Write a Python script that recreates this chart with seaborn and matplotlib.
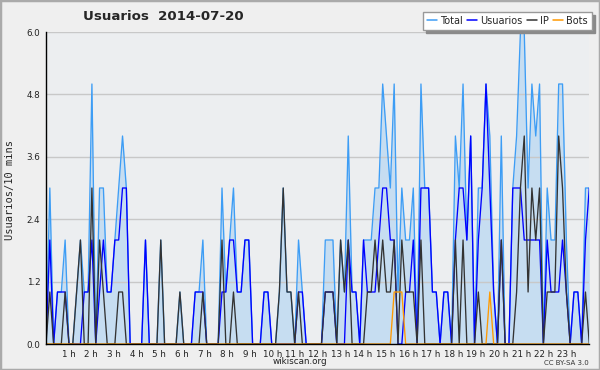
import numpy as np
import pandas as pd
import matplotlib
matplotlib.use("Agg")
import matplotlib.pyplot as plt
import seaborn as sns
from matplotlib.lines import Line2D
from matplotlib.patches import Rectangle

titulo = "Usuarios  2014-07-20"
series = ["Total", "Usuarios", "IP", "Bots"]
horas = [f"{h} h" for h in range(1, 24)]
yticks_lbl = ["0.0", "1.2", "2.4", "3.6", "4.8", "6.0"]

total = [0, 3, 0, 1, 1, 2, 0, 0, 1, 2, 1, 1, 5, 0, 3, 3, 1, 1, 2, 3, 4, 3, 0,
         0, 0, 0, 2, 0, 0, 0, 2, 0, 0, 0, 0, 1, 0, 0, 0, 1, 1, 2, 0, 0, 0, 0, 3,
         1, 2, 3, 1, 1, 2, 2, 0, 0, 0, 1, 1, 0, 0, 1, 3, 1, 1, 0, 2, 1, 0,
         0, 0, 0, 0, 2, 2, 2, 0, 2, 1, 4, 1, 1, 0, 2, 2, 2, 3, 3, 5, 4, 3, 5, 1, 3,
         2, 2, 3, 0, 5, 3, 3, 1, 1, 0, 1, 1, 0, 4, 3, 5, 2, 4, 0, 3, 3, 5, 4, 1,
         0, 4, 0, 0, 3, 4, 6, 6, 3, 5, 4, 5, 0, 3, 2, 2, 5, 5, 2, 0, 1, 1, 0, 3, 3]
usuarios = [0, 2, 0, 1, 1, 1, 0, 0, 0, 0, 1, 1, 2, 0, 1, 2, 1, 1, 2, 2, 3, 3, 0,
            0, 0, 0, 2, 0, 0, 0, 0, 0, 0, 0, 0, 0, 0, 0, 0, 1, 1, 1, 0, 0, 0, 0, 1,
            1, 2, 2, 1, 1, 2, 2, 0, 0, 0, 1, 1, 0, 0, 0, 0, 0, 0, 0, 1, 1, 0,
            0, 0, 0, 0, 1, 1, 1, 0, 0, 0, 2, 1, 1, 0, 2, 1, 1, 1, 2, 3, 3, 2, 2, 0, 0,
            1, 1, 2, 0, 3, 3, 3, 1, 1, 0, 1, 1, 0, 2, 3, 3, 2, 4, 0, 2, 3, 5, 3, 1,
            0, 2, 0, 0, 3, 3, 3, 2, 2, 2, 2, 2, 0, 2, 1, 1, 1, 2, 1, 0, 1, 1, 0, 2, 3]
ip = [0, 1, 0, 0, 0, 1, 0, 0, 1, 2, 0, 0, 3, 0, 2, 1, 0, 0, 0, 1, 1, 0, 0,
      0, 0, 0, 0, 0, 0, 0, 2, 0, 0, 0, 0, 1, 0, 0, 0, 0, 0, 1, 0, 0, 0, 0, 2,
      0, 0, 1, 0, 0, 0, 0, 0, 0, 0, 0, 0, 0, 0, 1, 3, 1, 1, 0, 1, 0, 0,
      0, 0, 0, 0, 1, 1, 1, 0, 2, 1, 2, 0, 0, 0, 0, 1, 1, 2, 1, 2, 1, 1, 2, 0, 2,
      1, 1, 1, 0, 2, 0, 0, 0, 0, 0, 0, 0, 0, 2, 0, 2, 0, 0, 0, 1, 0, 0, 0, 0,
      0, 2, 0, 0, 0, 1, 3, 4, 1, 3, 2, 3, 0, 1, 1, 1, 4, 3, 1, 0, 0, 0, 0, 1, 0]
bots = [0] * 23 + [0] * 24 + [0] * 22 + \
       [0] * 22 + [1, 1, 1] + \
       [0] * 22 + [1, 0] + \
       [0] * 25

n = len(total)
pos = np.arange(n) * 24.0 / (n - 1)

colores = {"Total": "#3d9df5", "Usuarios": "#0000ff", "IP": "#333333", "Bots": "#ff9900"}

sns.set_theme(style="white")
plt.rcParams["font.family"] = ["DejaVu Sans"]

fig = plt.figure(figsize=(6, 3.7), dpi=100, facecolor="#efefef")
ax = fig.add_axes([46 / 600, 1 - 344 / 370, (589.3 - 46) / 600, (344 - 32) / 370])
ax.set_facecolor("#eceef0")

df = pd.DataFrame({"t": pos, "Total": total, "Usuarios": usuarios, "IP": ip, "Bots": bots})
largo = df.melt(id_vars="t", var_name="serie", value_name="valor")

ax.fill_between(df["t"], df["Total"], color="#c6ddf1", zorder=0.4, linewidth=0)
sns.lineplot(data=largo, x="t", y="valor", hue="serie", hue_order=series,
             palette=colores, estimator=None, legend=False, linewidth=0.95, ax=ax)

ax.set_xlim(0, 24)
ax.set_ylim(0, 6)
ax.set_xticks(np.arange(1, 24))
ax.set_xticklabels(horas)
ax.set_xticks(np.arange(0, 24.001, 1 / 6), minor=True)
ax.set_yticks(np.arange(0, 6.01, 1.2))
ax.set_yticklabels(yticks_lbl)
ax.set_yticks(np.arange(0, 6.01, 0.6), minor=True)
ax.tick_params(axis="both", which="both", direction="out", length=3, width=0.8,
               color="black", labelsize=6.3, pad=1, labelcolor="#222222")
ax.set_xlabel("")
ax.set_ylabel("")
ax.yaxis.grid(True, which="major", color="#c8c8c8", linewidth=1)
ax.xaxis.grid(False)
ax.set_axisbelow(True)
for s in ["top", "right"]:
    ax.spines[s].set_visible(False)
for s in ["left", "bottom"]:
    ax.spines[s].set_color("black")
    ax.spines[s].set_linewidth(1)

handles = [Line2D([], [], color=colores[s], linewidth=1.1) for s in series]
leg = fig.legend(handles, series, loc="upper right", bbox_to_anchor=(592 / 600, 1 - 12 / 370),
                 ncol=4, fontsize=7, frameon=True, fancybox=False,
                 shadow={"color": "#8a8a8a", "alpha": 1.0},
                 handlelength=1.0, handletextpad=0.35, columnspacing=0.45,
                 borderpad=0.4, borderaxespad=0)
leg.get_frame().set_edgecolor("#999999")
leg.get_frame().set_linewidth(1)
leg.get_frame().set_facecolor("white")

fig.text(83 / 600, 1 - 17 / 370, titulo, fontsize=9.6, fontweight="bold", ha="left", va="center")
fig.text(10 / 600, 1 - 190 / 370, "Usuarios/10 mins", rotation=90, family="DejaVu Sans Mono",
         fontsize=7.5, ha="center", va="center")
fig.text(300 / 600, 1 - 362 / 370, "wikiscan.org", fontsize=6.3, ha="center", va="center", color="#222222")
fig.text(589 / 600, 1 - 363 / 370, "CC BY-SA 3.0", fontsize=5, ha="right", va="center", color="#333333")
fig.patches.append(Rectangle((0, 0), 1, 1, transform=fig.transFigure, fill=False,
                             edgecolor="#aaaaaa", linewidth=2.5))

fig.savefig("out.png", dpi=100, facecolor=fig.get_facecolor())
